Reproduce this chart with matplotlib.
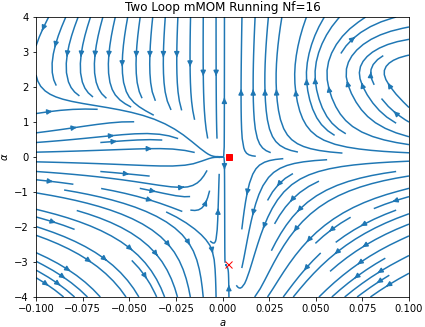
import numpy as np
import matplotlib
matplotlib.use("Agg")
import matplotlib.pyplot as plt

# ---- flow coefficients (Nf = 16, two loop, mMOM-like) ----
beta0 = 1.0 / 3.0
beta1_poly = [-100.67, 30.5, 4.0]        # beta1(alpha): const, alpha, alpha^2
gamma1_poly = [4.35, 1.5]                # one-loop gauge term: const, alpha
gamma2_level = [27.0, -110.0]            # two-loop gauge term: offset, step height
gamma2_step = [1.75, 0.6]                # step centre, width in alpha
gauge_speed = 1.0

# ---- fixed points (markers) ----
fp_square_a = [0.0033]
fp_square_alpha = [0.0]
fp_cross_a = [0.003]
fp_cross_alpha = [-3.05]

a_range = [-0.1, 0.1]
alpha_range = [-4.0, 4.0]

A, AL = np.meshgrid(np.linspace(*a_range, 200), np.linspace(*alpha_range, 200))


def poly(c, x):
    return sum(ci * x**i for i, ci in enumerate(c))


b1 = poly(beta1_poly, AL)
g1 = poly(gamma1_poly, AL)
g2 = gamma2_level[0] + gamma2_level[1] * np.tanh((AL - gamma2_step[0]) / gamma2_step[1])
U = A**2 * (beta0 + b1 * A)
V = gauge_speed * AL * A * (g1 + A * g2)

fig = plt.figure(figsize=(425 / 72, 327 / 72), dpi=72)
ax = fig.add_axes([36 / 425, 1 - 297 / 327, (409 - 36) / 425, (297 - 17) / 327])
ax.streamplot(A, AL, U, V, color="#1f77b4", linewidth=1.5, density=1)
ax.plot(fp_square_a, fp_square_alpha, "rs", ms=6)
ax.plot(fp_cross_a, fp_cross_alpha, "rx", ms=7)
ax.set_xlim(*a_range)
ax.set_ylim(*alpha_range)
ax.set_xlabel("$a$")
ax.set_ylabel(r"$\alpha$")
ax.set_title("Two Loop mMOM Running Nf=16")
fig.savefig("out.png", dpi=72)
